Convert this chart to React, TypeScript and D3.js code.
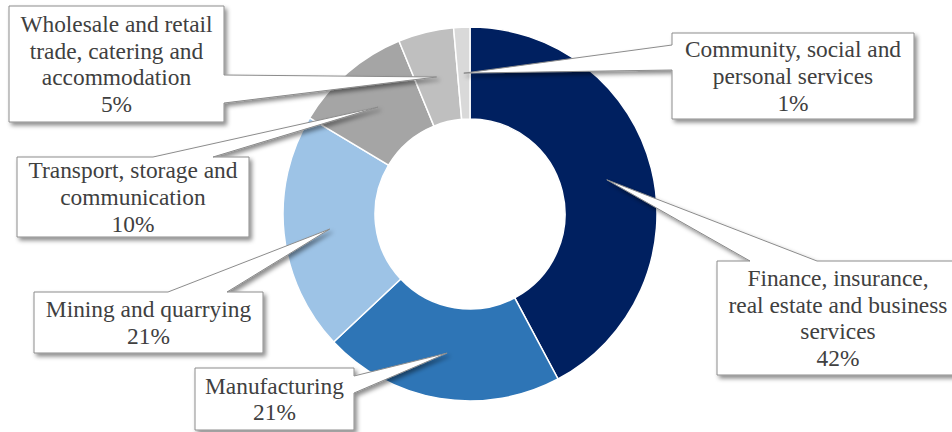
import React from "react";
import * as d3 from "d3";

// ---- data ----
const categories = [
  "Finance, insurance, real estate and business services",
  "Manufacturing",
  "Mining and quarrying",
  "Transport, storage and communication",
  "Wholesale and retail trade, catering and accommodation",
  "Community, social and personal services",
];
const shares = [42.2, 20.8, 20.6, 10.2, 4.8, 1.4];
const labelLines = [
  ["Finance, insurance,", "real estate and business", "services"],
  ["Manufacturing"],
  ["Mining and quarrying"],
  ["Transport, storage and", "communication"],
  ["Wholesale and retail", "trade, catering and", "accommodation"],
  ["Community, social and", "personal services"],
];
const colors = ["#002060", "#2E75B6", "#9DC3E6", "#A5A5A5", "#BFBFBF", "#D9D9D9"];

// ---- layout of callouts (annotation boxes) ----
type Callout = { x0: number; y0: number; x1: number; y1: number; side: "top" | "left" | "right"; b0: number; b1: number; cx?: number };
const callouts: Callout[] = [
  { x0: 717, y0: 261, x1: 963, y1: 375, side: "top", b0: 750, b1: 817, cx: 838 },
  { x0: 195, y0: 368, x1: 354, y1: 430, side: "right", b0: 376, b1: 393 },
  { x0: 34, y0: 292, x1: 263, y1: 353, side: "top", b0: 168, b1: 227 },
  { x0: 17, y0: 157, x1: 249, y1: 237, side: "top", b0: 153, b1: 213 },
  { x0: 9, y0: 6, x1: 224, y1: 122, side: "right", b0: 75, b1: 103 },
  { x0: 672, y0: 33, x1: 914, y1: 119, side: "left", b0: 45, b1: 70 },
];

const W = 952;
const H = 432;
const CX = 470;
const CY = 214;
const R_OUT = 187;
const R_IN = 95;
const FS = 23.4;
const LH = 26.7;

function calloutPath(c: Callout, tx: number, ty: number) {
  const { x0, y0, x1, y1, side, b0, b1 } = c;
  if (side === "top") {
    return `M${x0},${y0}L${b0},${y0}L${tx},${ty}L${b1},${y0}L${x1},${y0}L${x1},${y1}L${x0},${y1}Z`;
  }
  if (side === "right") {
    return `M${x0},${y0}L${x1},${y0}L${x1},${b0}L${tx},${ty}L${x1},${b1}L${x1},${y1}L${x0},${y1}Z`;
  }
  return `M${x0},${y0}L${x1},${y0}L${x1},${y1}L${x0},${y1}L${x0},${b1}L${tx},${ty}L${x0},${b0}Z`;
}

export default function App() {
  const pie = d3.pie<number>().sort(null).value((d) => d)(shares);
  const arc = d3.arc<d3.PieArcDatum<number>>().innerRadius(R_IN).outerRadius(R_OUT);

  return (
    <svg width={W} height={H} style={{ position: "absolute", left: 0, top: 0, display: "block" }}>
      <defs>
        <filter id="sh" x="-20%" y="-20%" width="140%" height="150%">
          <feDropShadow dx="2.5" dy="3" stdDeviation="2" floodColor="#000" floodOpacity="0.45" />
        </filter>
      </defs>
      <g transform={`translate(${CX},${CY})`}>
        {pie.map((p, i) => (
          <path key={categories[i]} d={arc(p) || ""} fill={colors[i]} stroke="#fff" strokeWidth={1.5} />
        ))}
      </g>
      {pie.map((p, i) => {
        const c = callouts[i];
        const [ax, ay] = arc.centroid(p);
        return (
          <path
            key={"b" + i}
            d={calloutPath(c, CX + ax, CY + ay)}
            fill="#fff"
            stroke="#8c8c8c"
            strokeWidth={1}
            filter="url(#sh)"
          />
        );
      })}
      {pie.map((p, i) => {
        const c = callouts[i];
        const lines = [...labelLines[i], `${Math.round(shares[i])}%`];
        const midY = (c.y0 + c.y1) / 2;
        const midX = c.cx ?? (c.x0 + c.x1) / 2;
        return lines.map((t, j) => (
          <text
            key={"t" + i + "-" + j}
            x={midX}
            y={midY - (lines.length * LH) / 2 + LH * (j + 0.5) + 0.3375 * FS}
            textAnchor="middle"
            fontSize={FS}
            fill="#404040"
            style={{ fontFamily: "Liberation Serif" }}
          >
            {t}
          </text>
        ));
      })}
    </svg>
  );
}
